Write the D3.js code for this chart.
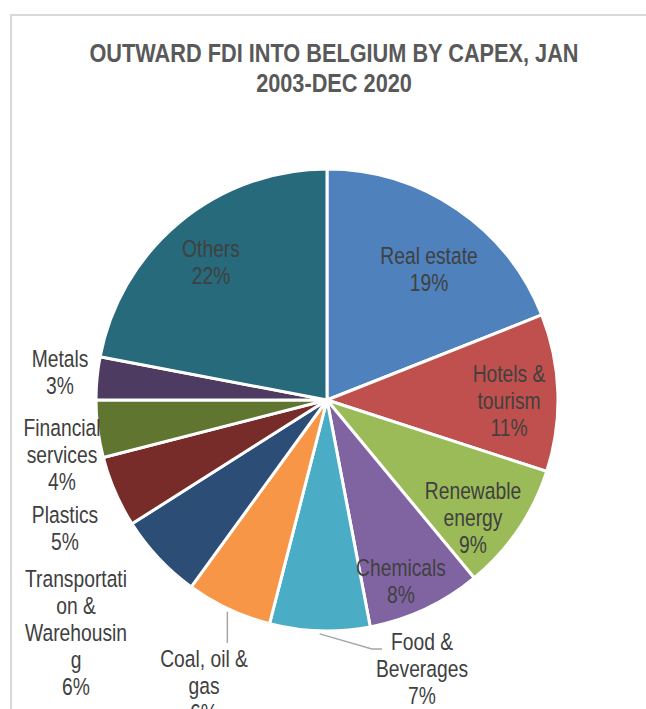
<!DOCTYPE html>
<html>
<head>
<meta charset="utf-8">
<script src="https://cdn.jsdelivr.net/npm/d3@7"></script>
<style>
  body { margin: 0; background: #fff; }
  svg { display: block; }
</style>
</head>
<body>
<div id="chart"></div>
<script>
// data
var categories = ["Real estate", "Hotels & tourism", "Renewable energy", "Chemicals",
  "Food & Beverages", "Coal, oil & gas", "Transportation & Warehousing", "Plastics",
  "Financial services", "Metals", "Others"];
var values = [19, 11, 9, 8, 7, 6, 6, 5, 4, 3, 22];
// how excel wrapped the names
var wrapped = [["Real estate"], ["Hotels &", "tourism"], ["Renewable", "energy"], ["Chemicals"],
  ["Food &", "Beverages"], ["Coal, oil &", "gas"], ["Transportati", "on &", "Warehousin", "g"],
  ["Plastics"], ["Financial", "services"], ["Metals"], ["Others"]];
var colors = ["#4f81bd", "#c0504d", "#9bbb59", "#8064a2", "#4bacc6", "#f79646",
  "#2c4d75", "#772c2a", "#5f7530", "#4d3b62", "#276a7c"];

var width = 646, height = 709;
var cx = 327, cy = 400, R = 231;
var lh = 27;

// label anchors (center x, first baseline)
var labelAt = [[429, 264], [509, 382], [473, 499], [401, 576], [422, 650], [204, 667],
  [76, 587], [65, 523], [62, 436], [60, 367], [211, 257]];

var svg = d3.select("#chart").append("svg")
  .attr("width", width)
  .attr("height", height);

// chart area frame
svg.append("rect")
  .attr("x", 11).attr("y", 15)
  .attr("width", 800).attr("height", 900)
  .attr("fill", "none")
  .attr("stroke", "#d9d9d9")
  .attr("stroke-width", 2);

function addText(x, y, lines, size, weight, fill) {
  var t = svg.append("text")
    .attr("transform", "translate(" + x + "," + y + ") scale(0.82,1)")
    .attr("text-anchor", "middle")
    .attr("font-family", "'Liberation Sans', Arial, sans-serif")
    .attr("font-size", size)
    .attr("font-weight", weight)
    .attr("fill", fill);
  lines.forEach(function (s, i) {
    t.append("tspan").attr("x", 0).attr("y", i * lh).text(s);
  });
  return t;
}

addText(334, 62, ["OUTWARD FDI INTO BELGIUM BY CAPEX, JAN"], 26.5, "bold", "#595959");
addText(334, 92, ["2003-DEC 2020"], 26.5, "bold", "#595959");

var pie = d3.pie().sort(null).value(d => d.v);
var rows = categories.map((c, i) => ({ name: c, v: values[i], i: i }));
var arcs = pie(rows);

var arc = d3.arc().innerRadius(0).outerRadius(R);

var g = svg.append("g").attr("transform", "translate(" + cx + "," + cy + ")");

g.selectAll("path")
  .data(arcs)
  .join("path")
  .attr("d", arc)
  .attr("fill", d => colors[d.data.i])
  .attr("stroke", "#fff")
  .attr("stroke-width", 3)
  .attr("stroke-linejoin", "round");

// leader lines for the two outside labels at the bottom
var edge = d3.arc().innerRadius(R + 3).outerRadius(R + 3);
function leader(i, pts) {
  var p = edge.centroid(arcs[i]);
  var all = [[p[0] + cx, p[1] + cy]].concat(pts);
  svg.append("path")
    .attr("d", d3.line()(all))
    .attr("fill", "none")
    .attr("stroke", "#a6a6a6")
    .attr("stroke-width", 1.5);
}
var coalStart = edge.centroid(arcs[5]);
leader(4, [[372, 649], [382, 649]]);
leader(5, [[coalStart[0] + cx, 643]]);

arcs.forEach(function (d, i) {
  var lines = wrapped[i].concat([Math.round(d.data.v / d3.sum(values) * 100) + "%"]);
  addText(labelAt[i][0], labelAt[i][1], lines, 23.5, "normal", "#404040");
});
</script>
</body>
</html>
